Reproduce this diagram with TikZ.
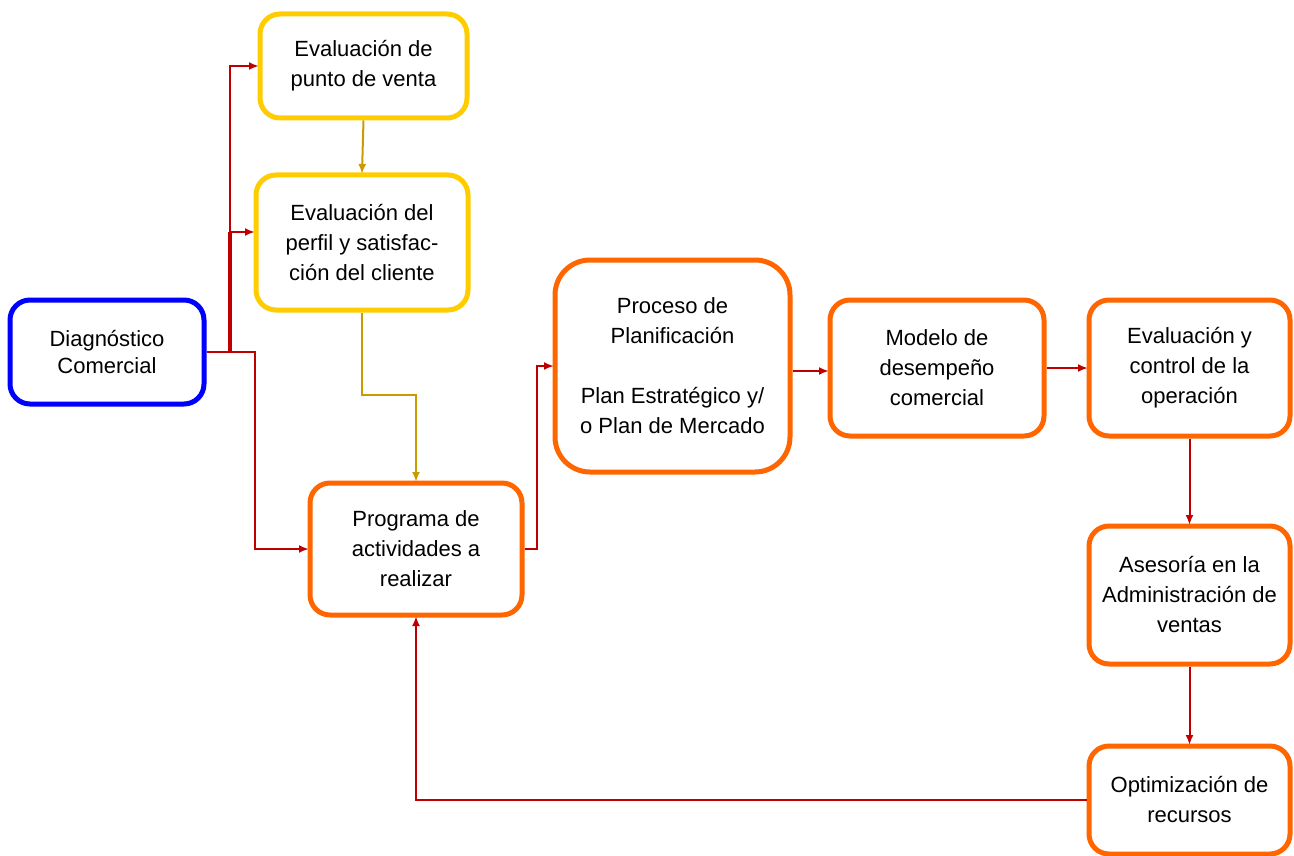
\documentclass[tikz,border=0pt]{standalone}
\usepackage{fontspec}
\setmainfont{Liberation Sans}
\usetikzlibrary{arrows.meta}
\definecolor{cblue}{HTML}{0000FF}
\definecolor{cyel}{HTML}{FFCC00}
\definecolor{corange}{HTML}{FF6600}
\definecolor{cred}{HTML}{C00000}
\definecolor{cgold}{HTML}{C89B00}
\tikzset{
  box/.style={draw, line width=5pt, rounded corners=20pt, align=center, inner sep=0pt,
    font=\fontsize{22}{30}\selectfont, text=black},
  bluebox/.style={box, draw=cblue},
  yelbox/.style={box, draw=cyel},
  orbox/.style={box, draw=corange},
  redarr/.style={draw=cred, line width=2pt, shorten >=-1.5pt, -{Latex[length=10pt,width=8pt]}},
  goldarr/.style={draw=cgold, line width=2pt, shorten >=-1.5pt, -{Latex[length=10pt,width=8pt]}},
}
\begin{document}
\begin{tikzpicture}[x=1pt,y=-1pt]
\useasboundingbox (0,0) rectangle (1294,856);
\node[bluebox, minimum width=194pt, minimum height=104pt, font=\fontsize{22}{27}\selectfont] (diag) at (107,352) {Diagnóstico\\Comercial};
\node[yelbox, minimum width=207pt, minimum height=104pt] (punto) at (363.5,66) {Evaluación de\\punto de venta};
\node[yelbox, minimum width=212pt, minimum height=135pt] (perfil) at (362,242.5) {Evaluación del\\perfil y satisfac-\\ción del cliente};
\node[orbox, minimum width=212pt, minimum height=132pt] (prog) at (416,549) {Programa de\\actividades a\\realizar};
\node[orbox, rounded corners=35pt, minimum width=235pt, minimum height=212pt] (proc) at (672.5,366) {Proceso de\\Planificación\\[30pt]Plan Estratégico y/\\o Plan de Mercado};
\node[orbox, minimum width=214pt, minimum height=136pt] (modelo) at (937,368) {Modelo de\\desempeño\\comercial};
\node[orbox, minimum width=201pt, minimum height=136pt] (eval) at (1189.5,368) {Evaluación y\\control de la\\operación};
\node[orbox, minimum width=201pt, minimum height=138pt] (ases) at (1189.5,595) {Asesoría en la\\Administración de\\ventas};
\node[orbox, minimum width=201pt, minimum height=108pt] (optim) at (1189.5,800) {Optimización de\\recursos};

\coordinate (j1) at (230,352);
\coordinate (j1b) at (230,232);
\coordinate (j2) at (255,352);
\coordinate (j3) at (362,395);
\coordinate (j4) at (537,549);

\draw[cred, line width=4pt] (j1) -- (j1b);
\draw[redarr] (diag.east) -- (j1) |- (punto.west);
\draw[redarr] (j1b) -- (j1b -| perfil.west);
\draw[redarr] (diag.east) -- (j2) |- (prog.west);
\draw[goldarr] (punto.south) -- (perfil.north);
\draw[goldarr] (perfil.south) -- (j3) -| (prog.north);
\draw[redarr] (prog.east) -- (j4) |- (proc.west);
\draw[redarr] ([yshift=-5pt]proc.east) -- ([yshift=-5pt]proc.east -| modelo.west);
\draw[redarr] (modelo.east) -- (eval.west);
\draw[redarr] (eval.south) -- (ases.north);
\draw[redarr] (ases.south) -- (optim.north);
\draw[redarr] (optim.west) -| (prog.south);
\end{tikzpicture}
\end{document}
